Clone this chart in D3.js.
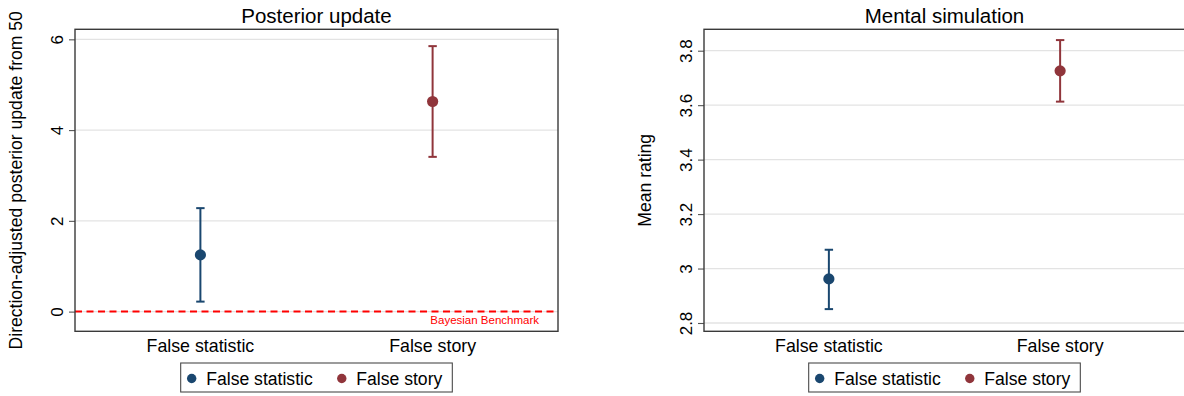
<!DOCTYPE html>
<html>
<head>
<meta charset="utf-8">
<script src="https://cdn.jsdelivr.net/npm/d3@7"></script>
<style>
  html, body { margin: 0; padding: 0; background: #ffffff; }
  svg { display: block; font-family: "Liberation Sans", Arial, sans-serif; }
</style>
</head>
<body>
<svg id="chart" width="1184" height="396"></svg>
<script>
// Groups shown on the x axis and in the legend
const categories = ["False statistic", "False story"];

// Posterior update: mean and 95% confidence interval per group
const posteriorMean = [1.25, 4.63];
const posteriorLow = [0.22, 3.41];
const posteriorHigh = [2.28, 5.85];
const posteriorTicks = [0, 2, 4, 6];
const posteriorBenchmark = 0;

// Mental simulation: mean rating and 95% confidence interval per group
const simulationMean = [2.962, 3.726];
const simulationLow = [2.851, 3.613];
const simulationHigh = [3.069, 3.839];
const simulationTicks = [2.8, 3.0, 3.2, 3.4, 3.6, 3.8];

const groupColors = ["#1a476f", "#90353b"];

const svg = d3.select("#chart");

function drawPanel(opts) {
  const { left, right, top, bottom, yDomain, ticks, title, yTitle,
          mean, low, high, benchmark } = opts;

  const g = svg.append("g");
  const cx = (left + right) / 2;

  const x = d3.scalePoint().domain(categories).range([left, right]).padding(0.54);
  const y = d3.scaleLinear().domain(yDomain).range([bottom, top]);

  // grid lines
  g.append("g").selectAll("line").data(ticks).join("line")
    .attr("x1", left).attr("x2", right)
    .attr("y1", d => y(d)).attr("y2", d => y(d))
    .attr("stroke", "#e3e3e3").attr("stroke-width", 1.3);

  // benchmark reference line
  if (benchmark !== undefined) {
    g.append("line")
      .attr("x1", left).attr("x2", right)
      .attr("y1", y(benchmark)).attr("y2", y(benchmark))
      .attr("stroke", "#ff0000").attr("stroke-width", 2)
      .attr("stroke-dasharray", "7,4.5");
    g.append("text")
      .attr("x", right - 19).attr("y", y(benchmark) + 12.5)
      .attr("text-anchor", "end")
      .attr("font-size", 11.5).attr("fill", "#ff0000")
      .text("Bayesian Benchmark");
  }

  // y axis: ticks and rotated labels
  const yAxis = d3.axisLeft(y).tickValues(ticks).tickSize(6).tickFormat(d3.format("~g"));
  const ya = g.append("g").attr("transform", `translate(${left},0)`).call(yAxis);
  ya.select(".domain").remove();
  ya.selectAll(".tick line").attr("stroke", "#555").attr("stroke-width", 1.1);
  ya.selectAll(".tick text")
    .attr("x", null).attr("dy", null)
    .attr("transform", "translate(-12.5,0) rotate(-90)")
    .attr("text-anchor", "middle")
    .attr("font-size", 17).attr("fill", "#000")
    .attr("font-family", "Liberation Sans, Arial, sans-serif");

  // x axis category labels
  g.append("g").selectAll("text").data(categories).join("text")
    .attr("x", d => x(d)).attr("y", 352)
    .attr("text-anchor", "middle")
    .attr("font-size", 17.8).attr("fill", "#000")
    .text(d => d);

  // confidence intervals
  const bars = g.append("g").selectAll("g").data(categories).join("g")
    .attr("stroke", (d, i) => groupColors[i]).attr("stroke-width", 2);
  bars.append("line")
    .attr("x1", d => x(d)).attr("x2", d => x(d))
    .attr("y1", (d, i) => y(low[i])).attr("y2", (d, i) => y(high[i]));
  bars.append("line")
    .attr("x1", d => x(d) - 4.2).attr("x2", d => x(d) + 4.2)
    .attr("y1", (d, i) => y(low[i])).attr("y2", (d, i) => y(low[i]));
  bars.append("line")
    .attr("x1", d => x(d) - 4.2).attr("x2", d => x(d) + 4.2)
    .attr("y1", (d, i) => y(high[i])).attr("y2", (d, i) => y(high[i]));

  // means
  g.append("g").selectAll("circle").data(categories).join("circle")
    .attr("cx", d => x(d)).attr("cy", (d, i) => y(mean[i]))
    .attr("r", 5.6).attr("fill", (d, i) => groupColors[i]);

  // plot region outline
  g.append("rect")
    .attr("x", left).attr("y", top)
    .attr("width", right - left).attr("height", bottom - top)
    .attr("fill", "none").attr("stroke", "#3a3a3a").attr("stroke-width", 1.4);

  // titles
  g.append("text")
    .attr("x", cx).attr("y", 23)
    .attr("text-anchor", "middle").attr("font-size", 20.5).attr("fill", "#000")
    .text(title);
  g.append("text")
    .attr("transform", `translate(${left - 53.5},${(top + bottom) / 2}) rotate(-90)`)
    .attr("text-anchor", "middle").attr("font-size", 17.6).attr("fill", "#000")
    .text(yTitle);

  // legend
  const lg = g.append("g");
  const box = lg.append("rect").attr("fill", "#fff").attr("stroke", "#4a4a4a").attr("stroke-width", 1.1);
  let cursor = 0;
  categories.forEach((c, i) => {
    if (i > 0) cursor += 29;
    const mx = cursor;
    lg.append("circle").attr("cx", mx).attr("cy", 378.5).attr("r", 4.7).attr("fill", groupColors[i]);
    const t = lg.append("text").attr("x", mx + 14.5).attr("y", 384.5)
      .attr("font-size", 17.6).attr("fill", "#000").text(c);
    cursor = mx + 14.5 + t.node().getComputedTextLength();
  });
  const boxW = 11 + cursor + 10;
  const boxX = cx - boxW / 2;
  lg.attr("transform", `translate(${boxX + 11},0)`);
  box.attr("x", -11).attr("y", 363).attr("width", boxW).attr("height", 29);
}

drawPanel({
  left: 75, right: 558, top: 29.3, bottom: 331.3,
  yDomain: [-0.434, 6.221], ticks: posteriorTicks,
  title: "Posterior update",
  yTitle: "Direction-adjusted posterior update from 50",
  mean: posteriorMean, low: posteriorLow, high: posteriorHigh,
  benchmark: posteriorBenchmark
});

drawPanel({
  left: 704, right: 1185, top: 29.3, bottom: 331.3,
  yDomain: [2.7695, 3.8786], ticks: simulationTicks,
  title: "Mental simulation",
  yTitle: "Mean rating",
  mean: simulationMean, low: simulationLow, high: simulationHigh
});
</script>
</body>
</html>
